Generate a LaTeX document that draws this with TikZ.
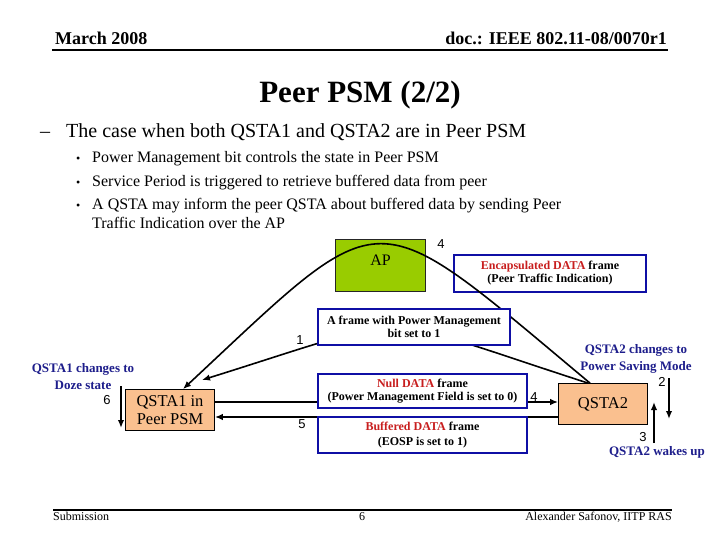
\documentclass[tikz,border=0pt]{standalone}
\usepackage{fontspec}
\setmainfont{Liberation Serif}
\newfontfamily\numfont{Liberation Sans}
\usetikzlibrary{arrows.meta}
\definecolor{frameblue}{RGB}{15,15,165}
\definecolor{datared}{RGB}{200,30,30}
\definecolor{labelnavy}{RGB}{30,30,140}
\definecolor{apgreen}{RGB}{153,204,0}
\definecolor{staorange}{RGB}{250,192,143}
\tikzset{
  msgbox/.style={draw=frameblue, line width=2.5pt, fill=white, inner sep=0pt, align=center,
    font=\bfseries\fontsize{12}{13}\selectfont},
  stabox/.style={draw=black, line width=0.8pt, fill=staorange, inner sep=0pt, align=center,
    font=\fontsize{16.5}{18.5}\selectfont, minimum width=89pt, minimum height=41pt},
  arr/.style={line width=1.6pt, -{Latex[length=8pt,width=6.5pt]}},
  num/.style={font=\numfont\fontsize{13}{13}\selectfont, inner sep=0pt},
  navylbl/.style={text=labelnavy, font=\bfseries\fontsize{13}{17}\selectfont, align=center, inner sep=0pt},
  bodytxt/.style={anchor=base west, inner sep=0pt, font=\fontsize{16}{16}\selectfont},
}
\begin{document}
\begin{tikzpicture}[x=1pt,y=-1pt]
\path[use as bounding box, fill=white] (0,0) rectangle (720,540);

% header
\node[anchor=base west, inner sep=0pt, font=\bfseries\fontsize{18}{18}\selectfont] (hdl) at (55,45) {March 2008};
\node[anchor=base east, inner sep=0pt, font=\bfseries\fontsize{18}{18}\selectfont] (hdr) at (667,45) {doc.: IEEE 802.11-08/0070r1};
\coordinate (hl1) at (52,50); \coordinate (hl2) at (668,50);
\draw[line width=2.5pt] (hl1) -- (hl2);

% title
\node[anchor=base, inner sep=0pt, font=\bfseries\fontsize{31}{31}\selectfont] (title) at (360,103) {Peer PSM (2/2)};
\node[anchor=base west, inner sep=0pt, font=\fontsize{20}{20}\selectfont] (dash) at (40,138) {–};
\node[anchor=base west, inner sep=0pt, font=\fontsize{20}{20}\selectfont] (sub) at (66,138) {The case when both QSTA1 and QSTA2 are in Peer PSM};

% bullets
\node[bodytxt, font=\fontsize{12}{12}\selectfont] (b1) at (76,163) {•};
\node[bodytxt] (t1) at (92,163) {Power Management bit controls the state in Peer PSM};
\node[bodytxt, font=\fontsize{12}{12}\selectfont] (b2) at (76,187) {•};
\node[bodytxt] (t2) at (92,187) {Service Period is triggered to retrieve buffered data from peer};
\node[bodytxt, font=\fontsize{12}{12}\selectfont] (b3) at (76,210) {•};
\node[bodytxt] (t3) at (92,210) {A QSTA may inform the peer QSTA about buffered data by sending Peer};
\node[bodytxt] (t3b) at (92,229) {Traffic Indication over the AP};

% stations and AP
\node[stabox] (qsta1) at (170,410) {QSTA1 in\\Peer PSM};
\node[stabox] (qsta2) at (603,404) {QSTA2};
\node[draw=black!85, line width=0.8pt, fill=apgreen, minimum width=90pt, minimum height=52pt,
  inner sep=0pt, text height=26pt, text depth=26pt, font=\fontsize{16}{16}\selectfont] (ap) at (380.5,265) {AP};
\node[msgbox, minimum width=192pt, minimum height=37pt] (encap) at (550,273.5)
  {\textcolor{datared}{Encapsulated DATA} frame\\(Peer Traffic Indication)};

% big arc over AP
\draw[arr] ([xshift=-13pt]qsta2.north) .. controls (367,197) and (389,197) .. ([xshift=13pt]qsta1.north);
\node[num] (n4a) at (441,244) {4};

% arc 1
\coordinate (tip1) at (202,380);
\draw[arr] ([xshift=-15pt]qsta2.north) .. controls (368,312) and (420,312) .. (tip1);
\node[num] (n1) at (300,340) {1};

% horizontal arrows
\draw[arr] (qsta1.east |- 0,402) -- (qsta2.west |- 0,402);
\draw[arr] (qsta2.west |- 0,417) -- (qsta1.east |- 0,417);
\node[num] (n4b) at (534,397) {4};
\node[num] (n5) at (302,424) {5};

% message boxes
\node[msgbox, minimum width=192pt, minimum height=36pt] (pmframe) at (414,327)
  {A frame with Power Management\\bit set to 1};
\node[msgbox, minimum width=209pt, minimum height=34pt] (nullbox) at (422.5,391)
  {\textcolor{datared}{Null DATA} frame\\(Power Management Field is set to 0)};
\node[msgbox, minimum width=209pt, minimum height=36pt, font=\bfseries\fontsize{12}{15}\selectfont] (bufbox) at (422.5,435)
  {\textcolor{datared}{Buffered DATA} frame\\(EOSP is set to 1)};

% state change arrows
\coordinate (s6) at (121,386); \coordinate (e6) at (121,428);
\draw[arr] (s6) -- (e6);
\node[num] (n6) at (107,400) {6};
\coordinate (s2) at (669,378); \coordinate (e2) at (669,419);
\draw[arr] (s2) -- (e2);
\node[num] (n2) at (662,382) {2};
\coordinate (s3) at (654,443); \coordinate (e3) at (654,402);
\draw[arr] (s3) -- (e3);
\node[num] (n3) at (643,437) {3};

% navy labels
\node[navylbl] (doze) at (83,376.5) {QSTA1 changes to\\Doze state};
\node[navylbl] (psm) at (636,358.5) {QSTA2 changes to\\Power Saving Mode};
\node[navylbl] (wake) at (657,452) {QSTA2 wakes up};

% footer
\coordinate (fl1) at (53,510); \coordinate (fl2) at (672,510);
\draw[line width=2pt] (fl1) -- (fl2);
\node[anchor=base west, inner sep=0pt, font=\fontsize{12}{12}\selectfont] (sub1) at (53,520) {Submission};
\node[anchor=base, inner sep=0pt, font=\fontsize{12}{12}\selectfont] (pg) at (362,520) {6};
\node[anchor=base east, inner sep=0pt, font=\fontsize{12}{12}\selectfont] (auth) at (672,520) {Alexander Safonov, IITP RAS};
\end{tikzpicture}
\end{document}
